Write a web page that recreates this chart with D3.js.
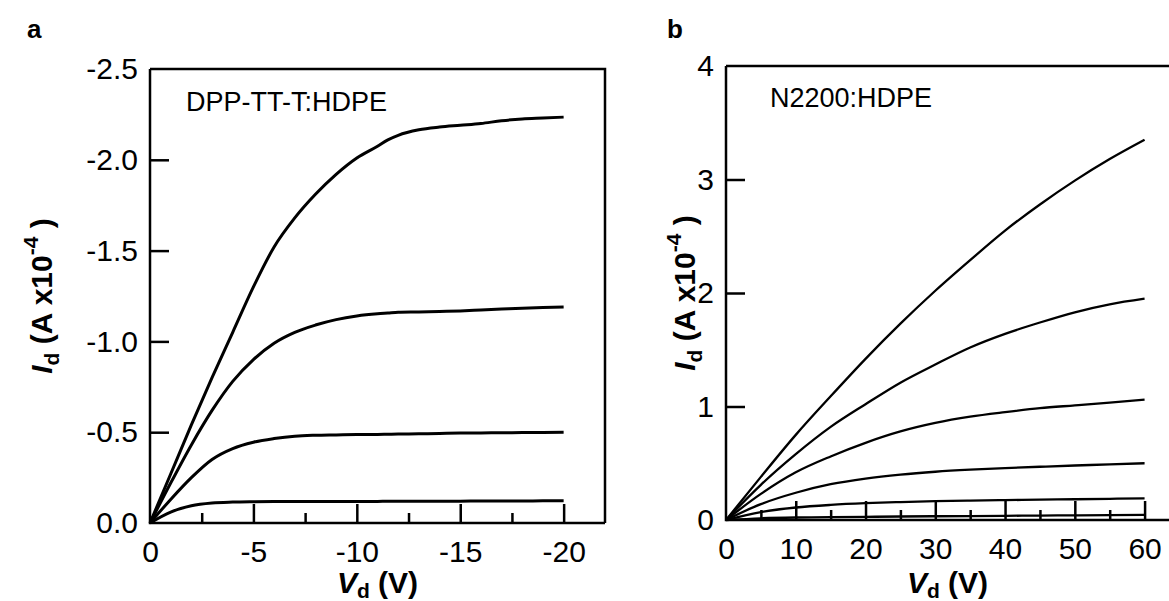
<!DOCTYPE html>
<html>
<head>
<meta charset="utf-8">
<script src="https://cdn.jsdelivr.net/npm/d3@7/dist/d3.min.js"></script>
<style>
  body { margin: 0; background: #fff; }
  svg { display: block; font-family: "Liberation Sans", Arial, sans-serif; }
</style>
</head>
<body>
<div id="chart"></div>
<script>
// ---- data ----
// panel a: DPP-TT-T:HDPE, Vd 0 .. -20 V, Id in units of 1e-4 A (negative)
const vdA = [0, -1, -2, -3, -4, -5, -6, -7, -8, -9, -10, -11, -11.5, -12, -13, -14, -15, -16, -17, -18, -19, -20];
const idA4 = [0, -0.27, -0.54, -0.80, -1.05, -1.30, -1.52, -1.68, -1.81, -1.92, -2.01, -2.075, -2.11, -2.135, -2.165, -2.18, -2.19, -2.20, -2.215, -2.225, -2.23, -2.235];
const idA3 = [0, -0.22, -0.43, -0.62, -0.78, -0.90, -0.99, -1.05, -1.09, -1.12, -1.14, -1.152, -1.156, -1.16, -1.162, -1.165, -1.168, -1.173, -1.178, -1.183, -1.187, -1.19];
const idA2 = [0, -0.13, -0.25, -0.35, -0.41, -0.445, -0.465, -0.478, -0.483, -0.485, -0.487, -0.488, -0.489, -0.49, -0.491, -0.493, -0.495, -0.496, -0.497, -0.498, -0.499, -0.50];
const idA1 = [0, -0.06, -0.095, -0.11, -0.115, -0.117, -0.118, -0.118, -0.119, -0.119, -0.119, -0.119, -0.12, -0.12, -0.12, -0.12, -0.12, -0.121, -0.121, -0.121, -0.122, -0.122];

// panel b: N2200:HDPE, Vd 0 .. 60 V
const vdB = [0, 5, 10, 15, 20, 25, 30, 35, 40, 45, 50, 55, 60];
const idB6 = [0, 0.38, 0.75, 1.09, 1.42, 1.73, 2.02, 2.29, 2.55, 2.78, 2.99, 3.18, 3.35];
const idB5 = [0, 0.31, 0.58, 0.82, 1.02, 1.21, 1.37, 1.52, 1.64, 1.74, 1.83, 1.90, 1.95];
const idB4 = [0, 0.23, 0.42, 0.56, 0.68, 0.78, 0.855, 0.91, 0.95, 0.985, 1.01, 1.035, 1.06];
const idB3 = [0, 0.14, 0.24, 0.315, 0.365, 0.40, 0.425, 0.443, 0.457, 0.469, 0.48, 0.49, 0.50];
const idB2 = [0, 0.07, 0.11, 0.133, 0.148, 0.158, 0.166, 0.171, 0.175, 0.179, 0.183, 0.187, 0.19];
const idB1 = [0, 0.015, 0.022, 0.025, 0.028, 0.031, 0.033, 0.035, 0.037, 0.039, 0.041, 0.043, 0.045];

// ticks
const xTicksA = [0, -5, -10, -15, -20];
const xTickLabelsA = ["0", "-5", "-10", "-15", "-20"];
const xMinorA = [-2.5, -7.5, -12.5, -17.5];
const yTicksA = [0, -0.5, -1.0, -1.5, -2.0, -2.5];
const yTickLabelsA = ["0.0", "-0.5", "-1.0", "-1.5", "-2.0", "-2.5"];

const xTicksB = [0, 10, 20, 30, 40, 50, 60];
const xTickLabelsB = ["0", "10", "20", "30", "40", "50", "60"];
const xMinorB = [5, 15, 25, 35, 45, 55];
const yTicksB = [0, 1, 2, 3, 4];
const yTickLabelsB = ["0", "1", "2", "3", "4"];

const W = 1169, H = 601;
const svg = d3.select("#chart").append("svg").attr("width", W).attr("height", H);

function panel(opt) {
    const x = d3.scaleLinear().domain(opt.xDomain).range([opt.left, opt.right]);
    const y = d3.scaleLinear().domain(opt.yDomain).range([opt.bottom, opt.top]);
    const g = svg.append("g");

    // major x ticks (inward)
    const ax = g.append("g")
        .attr("transform", `translate(0,${opt.bottom})`)
        .call(d3.axisBottom(x).tickValues(opt.xTicks).tickSize(-19).tickPadding(18)
            .tickFormat((d, i) => opt.xLabels[i]));
    // minor x ticks
    const axm = g.append("g")
        .attr("transform", `translate(0,${opt.bottom})`)
        .call(d3.axisBottom(x).tickValues(opt.xMinor).tickSize(-10).tickFormat(""));
    const ay = g.append("g")
        .attr("transform", `translate(${opt.left},0)`)
        .call(d3.axisLeft(y).tickValues(opt.yTicks).tickSize(-19).tickPadding(12)
            .tickFormat((d, i) => opt.yLabels[i]));

    [ax, axm, ay].forEach(a => {
        a.select(".domain").remove();
        a.selectAll("line").attr("stroke", "#000").attr("stroke-width", 2.5);
        a.selectAll("text").attr("fill", "#000").style("font-size", "30px")
            .style("font-family", '"Liberation Sans", Arial, sans-serif');
    });
    ax.selectAll(".tick").filter(d => d === 0).select("line").remove();
    ay.selectAll(".tick").filter(d => d === 0 || d === opt.yDomain[1]).select("line").remove();

    // frame
    let p = `M${opt.left},${opt.top}H${opt.frameRight}`;
    if (opt.closed) p += `V${opt.bottom}`;
    p += `M${opt.left},${opt.top}V${opt.bottom}H${opt.frameRight}`;
    g.append("path").attr("d", p)
        .attr("fill", "none").attr("stroke", "#000").attr("stroke-width", 2.5);

    // curves
    const line = d3.line()
        .x((d, i) => x(opt.vd[i]))
        .y(d => y(d))
        .curve(d3.curveMonotoneX);
    opt.series.forEach(s => {
        g.append("path").datum(s)
            .attr("fill", "none").attr("stroke", "#000")
            .attr("stroke-width", opt.curveWidth)
            .attr("stroke-linejoin", "round")
            .attr("d", line);
    });

    // inset label
    g.append("text").attr("x", opt.insetX).attr("y", opt.insetY)
        .style("font-size", "27px").text(opt.inset);

    // panel letter
    g.append("text").attr("x", opt.letterX).attr("y", 38)
        .style("font-size", "26px").style("font-weight", "bold").text(opt.letter);

    // x title
    const xt = g.append("text")
        .attr("x", (opt.left + opt.axisRightForTitle) / 2).attr("y", 593)
        .attr("text-anchor", "middle")
        .style("font-size", "30px").style("font-weight", "bold");
    xt.append("tspan").style("font-style", "italic").text("V");
    xt.append("tspan").attr("dy", 5).style("font-size", "21px").text("d");
    xt.append("tspan").attr("dy", -5).text(" (V)");

    // y title
    const cy = (opt.top + opt.bottom) / 2;
    const yt = g.append("text")
        .attr("transform", `translate(${opt.yTitleX},${cy}) rotate(-90)`)
        .attr("text-anchor", "middle")
        .style("font-size", "30px").style("font-weight", "bold");
    yt.append("tspan").style("font-style", "italic").text("I");
    yt.append("tspan").attr("dy", 7).style("font-size", "21px").text("d");
    yt.append("tspan").attr("dy", -7).text(" (A x10");
    yt.append("tspan").attr("dy", -14).style("font-size", "21px").text("-4");
    yt.append("tspan").attr("dy", 14).text(" )");
}

panel({
    xDomain: [0, -22], yDomain: [0, -2.5],
    left: 150, right: 605, top: 69, bottom: 523,
    frameRight: 605, closed: true, axisRightForTitle: 605,
    xTicks: xTicksA, xLabels: xTickLabelsA, xMinor: xMinorA,
    yTicks: yTicksA, yLabels: yTickLabelsA,
    vd: vdA, series: [idA1, idA2, idA3, idA4], curveWidth: 3,
    inset: "DPP-TT-T:HDPE", insetX: 186, insetY: 111,
    letter: "a", letterX: 27, yTitleX: 52
});

panel({
    xDomain: [0, 63.5], yDomain: [0, 4],
    left: 726, right: 1169, top: 66, bottom: 520,
    frameRight: 1172, closed: false, axisRightForTitle: 1169,
    xTicks: xTicksB, xLabels: xTickLabelsB, xMinor: xMinorB,
    yTicks: yTicksB, yLabels: yTickLabelsB,
    vd: vdB, series: [idB1, idB2, idB3, idB4, idB5, idB6], curveWidth: 2.3,
    inset: "N2200:HDPE", insetX: 770, insetY: 107,
    letter: "b", letterX: 667, yTitleX: 695
});
</script>
</body>
</html>
